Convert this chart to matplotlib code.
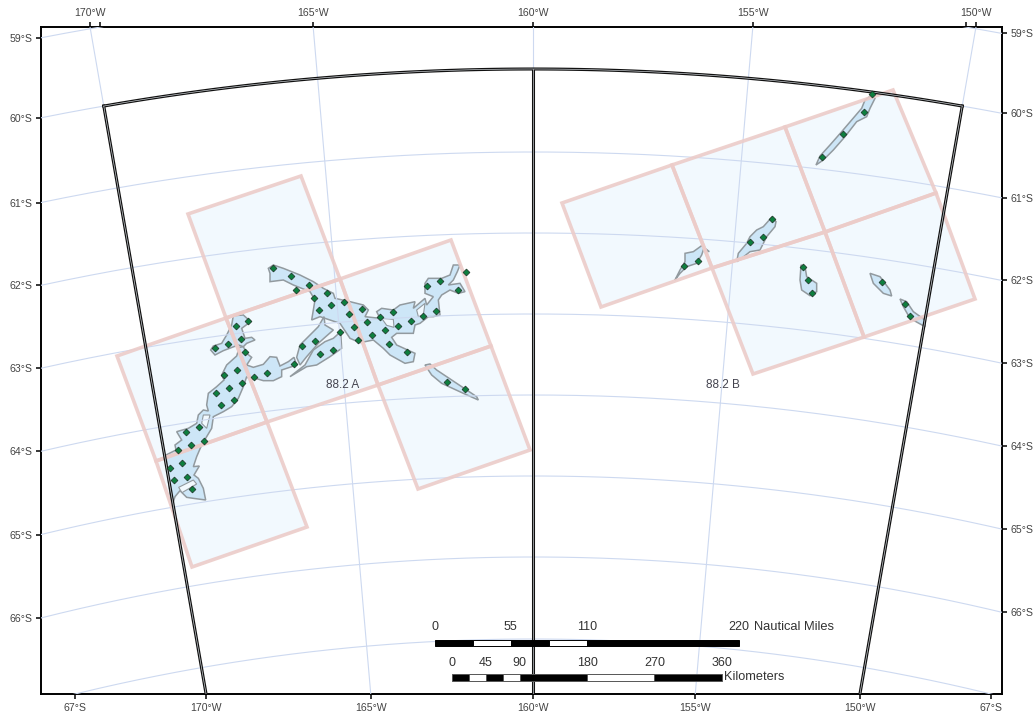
#! /usr/bin/env python3
# SSRU 88.2 map, Ross sea sector. Shapes digitised off 3x crops, hence crop() below.
import numpy as np
from matplotlib import pyplot as plt
from matplotlib.patches import Polygon, Rectangle

plt.rcParams['font.family'] = ['Liberation Sans', 'DejaVu Sans']


def crop(pts, x0, y0):
    return [(x0 + x / 3, y0 + y / 3) for x, y in pts]


# projection of the map frame
pole_x, pole_y = 533, 2573
lat_radius = {59: 2582.5, 60: 2504, 61: 2421, 62: 2340, 63: 2259, 64: 2178, 65: 2097, 66: 2016, 67: 1934}
lon_factor = 0.987

# graticule labels
lons = [-170, -165, -160, -155, -150]
lats = [59, 60, 61, 62, 63, 64, 65, 66]

# research blocks (map plane)
blocks_a = [
    [(188, 214), (301, 176), (340, 279), (226, 318)],
    [(117, 356), (226, 318), (267, 422), (156, 461)],
    [(226, 318), (340, 279), (378, 385), (267, 422)],
    [(340, 279), (451, 240), (491, 346), (378, 385)],
    [(156, 461), (267, 422), (307, 527), (192, 567)],
    [(378, 385), (491, 346), (530, 450), (418, 489)],
]
blocks_b = [
    [(562, 203), (672, 165), (712, 268), (601, 307)],
    [(672, 165), (785, 127), (825, 232), (712, 268)],
    [(785, 127), (893, 90), (936, 193), (825, 232)],
    [(712, 268), (825, 232), (864, 337), (753, 374)],
    [(825, 232), (936, 193), (975, 299), (864, 337)],
]

# seamount / bank outlines
west_bank = crop([(215, 770), (205, 690), (200, 640), (198, 615), (228, 600), (225, 585), (245, 570), (230, 545),
                  (265, 535), (290, 520), (295, 495), (310, 480), (325, 483), (320, 465), (325, 430), (350, 410),
                  (372, 390), (365, 375), (380, 345), (410, 318), (418, 292), (430, 290), (440, 310), (455, 322),
                  (440, 345), (460, 352), (490, 343), (510, 320), (530, 322), (540, 348), (565, 335), (582, 322),
                  (590, 345), (545, 360), (545, 380), (520, 392), (490, 392), (470, 386), (450, 388), (440, 380),
                  (430, 410), (415, 445), (395, 470), (370, 485), (340, 500), (335, 535), (305, 585), (290, 620),
                  (280, 650), (298, 648), (282, 675), (295, 685), (310, 715), (317, 750), (280, 745), (260, 742),
                  (240, 722), (225, 740)], 100, 250)
west_knob = crop([(332, 300), (345, 315), (370, 302), (415, 285), (430, 290), (440, 280), (465, 270), (455, 262),
                  (435, 265), (425, 235), (452, 215), (430, 195), (400, 197), (395, 225), (380, 255), (365, 280),
                  (340, 288)], 100, 250)
north_bank = crop([(55, 55), (70, 45), (100, 55), (150, 75), (190, 95), (220, 115), (250, 130), (255, 145), (300, 155),
                   (340, 165), (355, 180), (345, 200), (390, 205), (380, 185), (395, 175), (430, 180), (450, 165),
                   (495, 155), (490, 175), (525, 145), (530, 165), (550, 140), (525, 130), (525, 100), (535, 85),
                   (575, 85), (600, 75), (610, 45), (630, 45), (622, 65), (610, 90), (595, 105), (630, 100),
                   (645, 125), (625, 130), (600, 120), (575, 135), (565, 150), (570, 195), (550, 200), (535, 200),
                   (510, 220), (495, 225), (490, 250), (440, 250), (425, 262), (440, 285), (495, 310), (490, 335),
                   (465, 340), (420, 315), (400, 295), (370, 270), (330, 278), (300, 265), (270, 220), (240, 210),
                   (210, 200), (185, 210), (190, 180), (195, 150), (180, 125), (130, 105), (100, 90), (60, 95),
                   (60, 70)], 250, 250)
ridge_one = crop([(140, 322), (150, 285), (185, 250), (205, 230), (222, 200), (225, 225), (250, 240), (225, 262),
                  (205, 280), (170, 320), (150, 345)], 250, 250)
ridge_two = crop([(120, 380), (165, 345), (190, 300), (225, 275), (250, 265), (272, 245), (275, 295), (240, 320),
                  (200, 345), (170, 350)], 250, 250)
south_sliver = crop([(525, 345), (540, 342), (560, 360), (620, 400), (680, 440), (685, 450), (640, 430), (575, 400),
                     (545, 375)], 250, 250)
east_one = crop([(636, 45), (645, 55), (630, 85), (620, 110), (590, 125), (555, 170), (520, 210), (490, 240),
                 (468, 255), (480, 228), (510, 195), (545, 155), (575, 120), (605, 85), (615, 60)], 660, 80)
east_two = crop([(335, 412), (348, 425), (345, 440), (320, 470), (300, 510), (270, 515), (245, 535), (230, 545),
                 (235, 520), (260, 490), (270, 470), (290, 450), (310, 440)], 660, 80)
east_three = crop([(125, 497), (148, 515), (130, 510), (125, 525), (110, 550), (80, 560), (60, 580), (45, 600),
                   (60, 570), (75, 545), (75, 520), (100, 515)], 660, 80)
east_four = crop([(423, 555), (435, 560), (440, 590), (470, 610), (470, 635), (450, 647), (425, 630), (420, 600)], 660, 80)
east_five = crop([(630, 580), (660, 590), (690, 630), (695, 648), (670, 640), (640, 610)], 660, 80)
east_six = crop([(720, 657), (740, 665), (760, 695), (795, 720), (795, 740), (750, 715), (730, 680)], 660, 80)
banks = [west_bank, west_knob, north_bank, ridge_one, ridge_two, south_sliver,
         east_one, east_two, east_three, east_four, east_five, east_six]

# inlets cut into the banks
inlets = [
    crop([(395, 205), (430, 208), (432, 232), (410, 226)], 250, 250),
    crop([(500, 180), (525, 160), (520, 195), (505, 200)], 250, 250),
    crop([(310, 495), (330, 495), (320, 535), (305, 520)], 100, 250),
    crop([(236, 712), (280, 690), (290, 702), (246, 728)], 100, 250),
]

# stations
stations = crop([(345, 293), (383, 282), (407, 228), (445, 213), (422, 267), (436, 305), (410, 359), (372, 374),
                 (425, 398), (387, 413), (347, 428), (401, 451), (363, 466), (297, 531), (258, 546), (311, 573),
                 (273, 585), (235, 600), (247, 638), (209, 653), (261, 680), (223, 691), (276, 718)], 100, 250)
stations += crop([(69, 53), (122, 77), (177, 104), (138, 120), (230, 128), (192, 143), (244, 166), (283, 155),
                  (206, 181), (336, 178), (297, 193), (351, 216), (312, 232), (270, 245), (195, 272), (155, 288),
                  (209, 312), (248, 300), (324, 270), (366, 255), (405, 240), (443, 228), (482, 213), (417, 282),
                  (470, 306), (428, 187), (390, 200), (520, 198), (559, 184), (532, 107), (570, 92), (624, 120),
                  (648, 65), (131, 342), (52, 368), (13, 382), (591, 395), (645, 418)], 250, 250)
stations += crop([(636, 42), (613, 95), (550, 163), (486, 231), (335, 418), (308, 471), (269, 486), (114, 543),
                  (73, 558), (429, 560), (444, 600), (456, 638), (666, 605), (735, 671), (750, 709)], 660, 80)
station_x = [p[0] for p in stations]
station_y = [p[1] for p in stations]

# scale bars
nm_breaks = [0, 27.5, 55, 82.5, 110, 220]
nm_labels = [0, 55, 110, 220]
km_breaks = [0, 22.5, 45, 67.5, 90, 180, 270, 360]
km_labels = [0, 45, 90, 180, 270, 360]


def meridian_x(lon, y):
    return pole_x + (pole_y - y) * np.tan(np.radians((lon + 160) * lon_factor))


def project(lon, lat):
    t = np.radians((np.asarray(lon, dtype=float) + 160) * lon_factor)
    r = lat_radius[lat]
    return pole_x + r * np.sin(t), pole_y - r * np.cos(t)


def parallel_y(lat, x):
    return pole_y - np.sqrt(lat_radius[lat] ** 2 - (x - pole_x) ** 2)


def parallel_x(lat, y):
    dx = np.sqrt(lat_radius[lat] ** 2 - (pole_y - y) ** 2)
    return pole_x - dx, pole_x + dx


fig = plt.figure(figsize=(10.35, 7.16), dpi=100)
left, right, top, bottom = 41, 1002, 27, 694
ax = fig.add_axes([left / 1035, 1 - bottom / 716, (right - left) / 1035, (bottom - top) / 716])
ax.set_xlim(left, right)
ax.set_ylim(bottom, top)

grid_c = '#cdd9f0'
pink = '#ecccc9'
cell_c = '#f2f9fe'

for cell in blocks_a + blocks_b:
    ax.add_patch(Polygon(cell, closed=True, fc=cell_c, ec='none', zorder=1))

for poly in banks:
    ax.add_patch(Polygon(poly, closed=True, fc='#cde6f7', ec='#929a9f', lw=1.1, zorder=2))
for poly in inlets:
    ax.add_patch(Polygon(poly, closed=True, fc=cell_c, ec='#929a9f', lw=0.8, zorder=2.1))

for lon in lons:
    ys = np.array([top, bottom])
    ax.plot(meridian_x(lon, ys), ys, color=grid_c, lw=0.8, zorder=3)
for lat in lat_radius:
    xs = np.linspace(left, right, 200)
    ax.plot(xs, parallel_y(lat, xs), color=grid_c, lw=0.8, zorder=3)

for cell in blocks_a + blocks_b:
    ax.add_patch(Polygon(cell, closed=True, fc='none', ec=pink, lw=2.6, alpha=0.9, joinstyle='miter', zorder=4))

# double line area boundary
box_lon = np.linspace(-170, -150, 100)
bx, by = project(box_lon, 60)
for lw, col in [(2.2, '#111111'), (0.45, '#d8dde2')]:
    ax.plot(bx, by, color=col, lw=lw, zorder=5)
    for lon in [-170, -160, -150]:
        y0 = project(lon, 60)[1]
        ys = np.array([y0, bottom])
        ax.plot(meridian_x(lon, ys), ys, color=col, lw=lw, zorder=5)

ax.plot(station_x, station_y, ls='none', marker='D', ms=3.5, mfc='#0d7f3f', mec='#1c2f24', mew=0.5, zorder=6)

ax.text(343, 384.5, '88.2 A', fontsize=8.5, color='#44444f', ha='center', va='center', zorder=7)
ax.text(723, 384.5, '88.2 B', fontsize=8.5, color='#44444f', ha='center', va='center', zorder=7)


def scale_bar(x0, per_unit, y, h, breaks, labels, ylab, ec):
    for i in range(len(breaks) - 1):
        col = 'black' if i % 2 == 0 else 'white'
        x = x0 + breaks[i] * per_unit
        w = (breaks[i + 1] - breaks[i]) * per_unit
        ax.add_patch(Rectangle((x, y), w, h, fc=col, ec=ec, lw=0.7, zorder=8))
    for v in labels:
        ax.text(x0 + v * per_unit, ylab, str(v), fontsize=9, color='#333333', ha='center', va='center', zorder=8)


scale_bar(434.7, 304.6 / 220, 639.5, 6, nm_breaks, nm_labels, 627.5, 'black')
scale_bar(452.3, 269.4 / 360, 673.5, 7, km_breaks, km_labels, 663, '#555555')
ax.text(754, 627.5, 'Nautical Miles', fontsize=9.3, color='#333333', ha='left', va='center', zorder=8)
ax.text(724, 676.5, 'Kilometers', fontsize=9.2, color='#333333', ha='left', va='center', zorder=8)

# frame ticks, every side has its own crossings
lab_kw = dict(labelsize=7.6, labelcolor='#444444', length=3.8, width=1.1, pad=2.5)
lon_text = [f'{abs(v)}°W' for v in lons]
lat_text = [f'{v}°S' for v in lats]

ax.set_xticks([parallel_x(67, bottom)[0]] + list(meridian_x(np.array(lons), bottom)) + [parallel_x(67, bottom)[1]])
ax.set_xticklabels(['67°S'] + lon_text + ['67°S'])
ax.set_yticks([parallel_y(v, left) for v in lats])
ax.set_yticklabels(lat_text)
ax.tick_params(**lab_kw)

sec_top = ax.secondary_xaxis('top')
top_pos = list(meridian_x(np.array(lons), top))
xa, xb = parallel_x(59, top)
sec_top.set_xticks(top_pos + [xa, xb])
sec_top.set_xticklabels(lon_text + ['', ''])
sec_top.tick_params(**lab_kw)

sec_right = ax.secondary_yaxis('right')
sec_right.set_yticks([parallel_y(v, right) for v in lats])
sec_right.set_yticklabels(lat_text)
sec_right.tick_params(**lab_kw)

for sp in ax.spines.values():
    sp.set_linewidth(1.4)
for sp in list(sec_top.spines.values()) + list(sec_right.spines.values()):
    sp.set_visible(False)

fig.savefig('out.png', dpi=100)
